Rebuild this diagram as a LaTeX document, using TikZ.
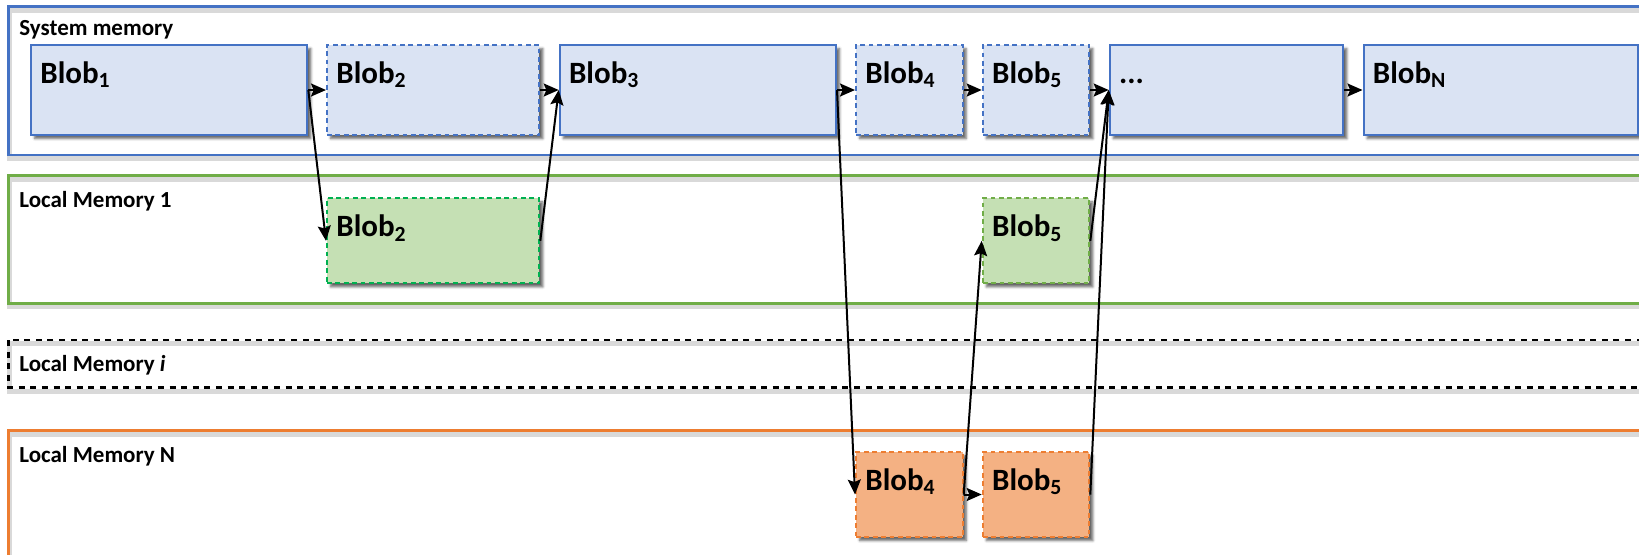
\documentclass[tikz,border=0pt]{standalone}
\usepackage{fontspec}
\setmainfont{Carlito}
\usetikzlibrary{arrows.meta,shadows.blur}
\definecolor{sysblue}{HTML}{4472C4}
\definecolor{sysfill}{HTML}{DAE3F3}
\definecolor{locgreen}{HTML}{70AD47}
\definecolor{locgreendk}{HTML}{00B050}
\definecolor{greenfill}{HTML}{C5E0B4}
\definecolor{locorange}{HTML}{ED7D31}
\definecolor{orangefill}{HTML}{F4B183}

\begin{document}
\begin{tikzpicture}[x=0.5pt,y=-0.5pt,
  memframe/.style={line width=1.25pt,
    preaction={draw=black!15, solid, line width=2.5pt,
      transform canvas={shift={(0.6pt,-1.8pt)}}}},
  box/.style={rectangle, inner sep=0pt, anchor=north west, line width=1pt,
    blur shadow={shadow xshift=1.8pt, shadow yshift=-1.8pt,
      shadow blur radius=1.2pt, shadow opacity=60}},
  copy/.style={dash pattern=on 2.4pt off 1.8pt},
  sysbox/.style={box, draw=sysblue, fill=sysfill},
  greenbox/.style={box, copy, fill=greenfill},
  orangebox/.style={box, copy, draw=locorange, fill=orangefill},
  blobtext/.style={anchor=base west, inner sep=0pt,
    font=\fontsize{15.5}{18}\selectfont\bfseries},
  memlabel/.style={anchor=base west, inner sep=0pt,
    font=\fontsize{11.5}{14}\selectfont\bfseries},
  conn/.style={-{Stealth[length=7.5pt,width=6.5pt,inset=1.3pt]},
    line width=1pt, black},
]
\useasboundingbox (0,0) rectangle (1639,554);
\clip (0,0) rectangle (1639,554);

% memory regions
\draw[memframe, draw=sysblue] (8.4,6.7) rectangle (1700,155);
\draw[memframe, draw=locgreen] (8.4,175.7) rectangle (1700,303.3);
\draw[memframe, draw=black, dash pattern=on 3pt off 2.8pt] (8.4,340) rectangle (1700,387.7);
\draw[memframe, draw=locorange] (8.4,430.7) rectangle (1700,640);

\node[memlabel] (lsys) at (19,35.5) {System memory};
\node[memlabel] (lm1) at (19,207.5) {Local Memory 1};
\node[memlabel] (lmi) at (19,371) {Local Memory \textit{i}};
\node[memlabel] (lmn) at (19,462.5) {Local Memory N};

% blobs in system memory
\node[sysbox, minimum width=138.15pt, minimum height=45pt] (b1) at (30,44) {};
\node[sysbox, copy, minimum width=106.15pt, minimum height=45pt] (b2) at (326,44) {};
\node[sysbox, minimum width=138.15pt, minimum height=45pt] (b3) at (558.7,44) {};
\node[sysbox, copy, minimum width=53.25pt, minimum height=45pt] (b4) at (855,44) {};
\node[sysbox, copy, minimum width=53.3pt, minimum height=45pt] (b5) at (981.7,44) {};
\node[sysbox, minimum width=116.8pt, minimum height=45pt] (bd) at (1108.7,44) {};
\node[sysbox, minimum width=137.25pt, minimum height=45pt] (bn) at (1362.5,44) {};

% copies in local memory 1
\node[greenbox, draw=locgreendk, minimum width=106.15pt, minimum height=42.5pt] (g2) at (326,197.3) {};
\node[greenbox, draw=locgreen, minimum width=53.3pt, minimum height=42.5pt] (g5) at (981.7,197.3) {};

% copies in local memory N
\node[orangebox, minimum width=53.35pt, minimum height=42.5pt] (o4) at (855,451) {};
\node[orangebox, minimum width=53.3pt, minimum height=42.5pt] (o5) at (981.7,451) {};

% blob names
\node[blobtext] (b1t) at ([shift={(10,39.5)}]b1.north west) {Blob\textsubscript{1}};
\node[blobtext] (b2t) at ([shift={(10,39.5)}]b2.north west) {Blob\textsubscript{2}};
\node[blobtext] (b3t) at ([shift={(10,39.5)}]b3.north west) {Blob\textsubscript{3}};
\node[blobtext] (b4t) at ([shift={(10,39.5)}]b4.north west) {Blob\textsubscript{4}};
\node[blobtext] (b5t) at ([shift={(10,39.5)}]b5.north west) {Blob\textsubscript{5}};
\node[blobtext] (bdt) at ([shift={(10,39.5)}]bd.north west) {...};
\node[blobtext] (bnt) at ([shift={(10,39.5)}]bn.north west) {Blob\textsubscript{N}};
\node[blobtext] (g2t) at ([shift={(10,39.5)}]g2.north west) {Blob\textsubscript{2}};
\node[blobtext] (g5t) at ([shift={(10,39.5)}]g5.north west) {Blob\textsubscript{5}};
\node[blobtext] (o4t) at ([shift={(10,39.5)}]o4.north west) {Blob\textsubscript{4}};
\node[blobtext] (o5t) at ([shift={(10,39.5)}]o5.north west) {Blob\textsubscript{5}};

% chain in system memory
\draw[conn] (b1.east) -- (b2.west);
\draw[conn] (b2.east) -- (b3.west);
\draw[conn] (b3.east) -- (b4.west);
\draw[conn] (b4.east) -- (b5.west);
\draw[conn] (b5.east) -- (bd.west);
\draw[conn] (bd.east) -- (bn.west);

% transfers to and from local memories
\draw[conn] (b1.east) -- (g2.west);
\draw[conn] (g2.east) -- (b3.west);
\draw[conn] (b3.east) -- (o4.west);
\draw[conn] (o4.east) -- (o5.west);
\draw[conn] (o4.east) -- (g5.west);
\draw[conn] (g5.east) -- (bd.west);
\draw[conn] (o5.east) -- (bd.west);
\end{tikzpicture}
\end{document}
